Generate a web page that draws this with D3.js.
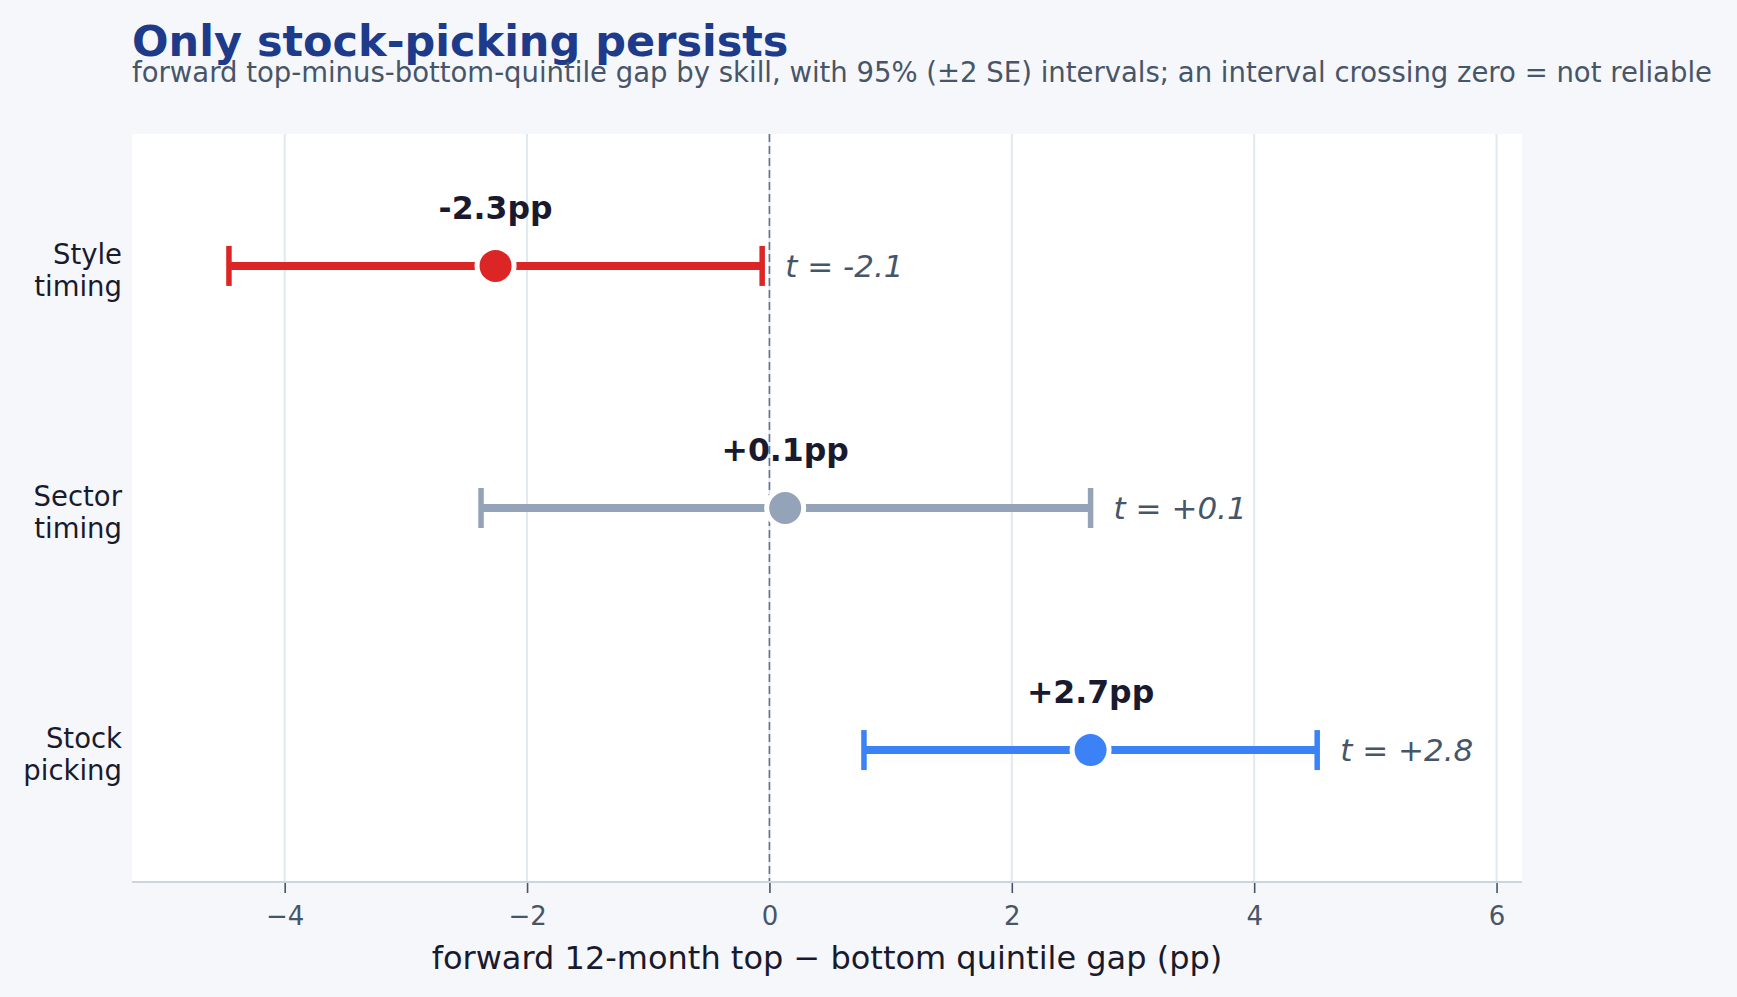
<!DOCTYPE html>
<html>
<head>
<meta charset="utf-8">
<script src="https://cdn.jsdelivr.net/npm/d3@7"></script>
<style>
  html, body { margin: 0; padding: 0; background: #f5f7fb; }
  svg { display: block; font-family: "DejaVu Sans", sans-serif; }
</style>
</head>
<body>
<div id="chart"></div>
<script>
// Values
const skills   = [['Style', 'timing'], ['Sector', 'timing'], ['Stock', 'picking']];
const means    = [-2.26, 0.13, 2.65];
const lows     = [-4.46, -2.38, 0.78];
const highs    = [-0.06, 2.65, 4.52];
const tStats   = ['-2.1', '+0.1', '+2.8'];
const valueLabels = ['-2.3pp', '+0.1pp', '+2.7pp'];
const colors   = ['#dc2626', '#94a3b8', '#3b82f6'];
const xTicks   = [-4, -2, 0, 2, 4, 6];

const W = 1737, H = 997;
const PLOT = { left: 132, right: 1522, top: 134, bottom: 882 };

const svg = d3.select('#chart').append('svg')
  .attr('width', W).attr('height', H);

svg.append('rect').attr('width', W).attr('height', H).attr('fill', '#f5f7fb');

// Title + subtitle
svg.append('text')
  .attr('x', PLOT.left).attr('y', 56)
  .attr('font-size', 43).attr('font-weight', 'bold').attr('fill', '#1e3a8a')
  .text('Only stock-picking persists');
svg.append('text')
  .attr('x', PLOT.left).attr('y', 82)
  .attr('font-size', 27.5).attr('fill', '#475569')
  .text('forward top-minus-bottom-quintile gap by skill, with 95% (±2 SE) intervals; an interval crossing zero = not reliable');

const x = d3.scaleLinear().domain([-5.26, 6.21]).range([PLOT.left, PLOT.right]);
const y = d3.scaleLinear().domain([-0.545, 2.545]).range([PLOT.top, PLOT.bottom]);

// Plot background
svg.append('rect')
  .attr('x', PLOT.left).attr('y', PLOT.top)
  .attr('width', PLOT.right - PLOT.left).attr('height', PLOT.bottom - PLOT.top)
  .attr('fill', '#ffffff');

// Gridlines
svg.append('g')
  .selectAll('line').data(xTicks).join('line')
    .attr('x1', d => x(d)).attr('x2', d => x(d))
    .attr('y1', PLOT.top).attr('y2', PLOT.bottom)
    .attr('stroke', '#e2e8f0').attr('stroke-width', 2);

// Zero reference
svg.append('line')
  .attr('x1', x(0)).attr('x2', x(0))
  .attr('y1', PLOT.top).attr('y2', PLOT.bottom)
  .attr('stroke', '#64748b').attr('stroke-width', 1.6)
  .attr('stroke-dasharray', '8,4');

// X axis
const xAxis = svg.append('g')
  .attr('transform', `translate(0,${PLOT.bottom})`)
  .call(d3.axisBottom(x).tickValues(xTicks).tickSize(11).tickPadding(14)
    .tickFormat(d => d < 0 ? '\u2212' + Math.abs(d) : d));
xAxis.select('.domain').remove();
xAxis.selectAll('.tick line').attr('stroke', '#475569').attr('stroke-width', 1.6);
xAxis.selectAll('.tick text')
  .attr('font-size', 26).attr('fill', '#475569')
  .attr('font-family', '"DejaVu Sans", sans-serif');
svg.append('line')
  .attr('x1', PLOT.left).attr('x2', PLOT.right)
  .attr('y1', PLOT.bottom).attr('y2', PLOT.bottom)
  .attr('stroke', '#cbd5e1').attr('stroke-width', 2);

svg.append('text')
  .attr('x', (PLOT.left + PLOT.right) / 2).attr('y', 969)
  .attr('text-anchor', 'middle')
  .attr('font-size', 32).attr('fill', '#1a1a2e')
  .text('forward 12-month top \u2212 bottom quintile gap (pp)');

// Row labels
skills.forEach((lines, i) => {
  const t = svg.append('text')
    .attr('text-anchor', 'end')
    .attr('font-size', 27.5).attr('fill', '#1a1a2e');
  lines.forEach((ln, j) => {
    t.append('tspan').attr('x', PLOT.left - 10)
      .attr('y', y(i) - 2 + j * 32).text(ln);
  });
});

// Error bars
const rows = d3.range(skills.length);
const g = svg.append('g');

g.selectAll('.bar-line').data(rows).join('line')
  .attr('class', 'bar-line')
  .attr('x1', i => x(lows[i])).attr('x2', i => x(highs[i]))
  .attr('y1', i => y(i)).attr('y2', i => y(i))
  .attr('stroke', i => colors[i]).attr('stroke-width', 8);

['lo', 'hi'].forEach(side => {
  g.selectAll(`.cap-${side}`).data(rows).join('line')
    .attr('class', `cap-${side}`)
    .attr('x1', i => x(side === 'lo' ? lows[i] : highs[i]))
    .attr('x2', i => x(side === 'lo' ? lows[i] : highs[i]))
    .attr('y1', i => y(i) - 20).attr('y2', i => y(i) + 20)
    .attr('stroke', i => colors[i]).attr('stroke-width', 5.5);
});

g.selectAll('.dot').data(rows).join('circle')
  .attr('class', 'dot')
  .attr('cx', i => x(means[i])).attr('cy', i => y(i))
  .attr('r', 18.5)
  .attr('fill', i => colors[i])
  .attr('stroke', '#ffffff').attr('stroke-width', 5);

g.selectAll('.val').data(rows).join('text')
  .attr('class', 'val')
  .attr('x', i => x(means[i])).attr('y', i => y(i) - 47)
  .attr('text-anchor', 'middle')
  .attr('font-size', 31.5).attr('font-weight', 'bold').attr('fill', '#1a1a2e')
  .text(i => valueLabels[i]);

g.selectAll('.tstat').data(rows).join('text')
  .attr('class', 'tstat')
  .attr('x', i => x(highs[i]) + 23).attr('y', i => y(i) + 11)
  .attr('font-size', 31).attr('font-style', 'italic').attr('fill', '#475569')
  .text(i => `t = ${tStats[i]}`);
</script>
</body>
</html>
